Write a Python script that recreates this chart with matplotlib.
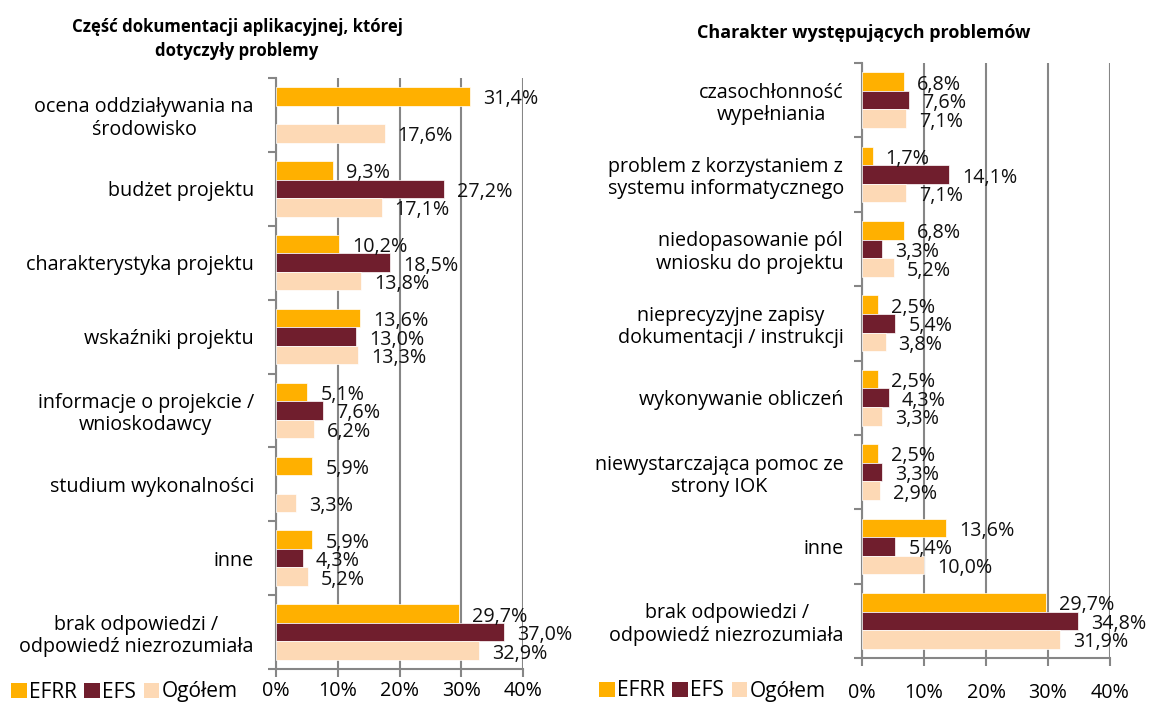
import numpy as np
import matplotlib
matplotlib.use("Agg")
import matplotlib.pyplot as plt
from matplotlib.patches import Patch

plt.rcParams['font.family'] = ['Open Sans', 'DejaVu Sans']

series_names = ["EFRR", "EFS", "Ogółem"]
colors = ["#FFB000", "#701E2D", "#FDD9B5"]

left_title = "Część dokumentacji aplikacyjnej, której\ndotyczyły problemy"
left_categories = [
    "ocena oddziaływania na\nśrodowisko",
    "budżet projektu",
    "charakterystyka projektu",
    "wskaźniki projektu",
    "informacje o projekcie /\nwnioskodawcy",
    "studium wykonalności",
    "inne",
    "brak odpowiedzi /\nodpowiedź niezrozumiała",
]
left_efrr = [31.4, 9.3, 10.2, 13.6, 5.1, 5.9, 5.9, 29.7]
left_efs = [np.nan, 27.2, 18.5, 13.0, 7.6, np.nan, 4.3, 37.0]
left_total = [17.6, 17.1, 13.8, 13.3, 6.2, 3.3, 5.2, 32.9]

right_title = "Charakter występujących problemów"
right_categories = [
    "czasochłonność\nwypełniania",
    "problem z korzystaniem z\nsystemu informatycznego",
    "niedopasowanie pól\nwniosku do projektu",
    "nieprecyzyjne zapisy\ndokumentacji / instrukcji",
    "wykonywanie obliczeń",
    "niewystarczająca pomoc ze\nstrony IOK",
    "inne",
    "brak odpowiedzi /\nodpowiedź niezrozumiała",
]
right_efrr = [6.8, 1.7, 6.8, 2.5, 2.5, 2.5, 13.6, 29.7]
right_efs = [7.6, 14.1, 3.3, 5.4, 4.3, 3.3, 5.4, 34.8]
right_total = [7.1, 7.1, 5.2, 3.8, 3.3, 2.9, 10.0, 31.9]

x_ticks = [0, 10, 20, 30, 40]
x_tick_labels = ["0%", "10%", "20%", "30%", "40%"]

W, H = 1151, 704
fig = plt.figure(figsize=(W / 100, H / 100), dpi=100)

GRID = "#868686"
FS = 14.2


def px_axes(x0, y0, x1, y1):
    return fig.add_axes([x0 / W, 1 - y1 / H, (x1 - x0) / W, (y1 - y0) / H])


def draw(ax, cats, s1, s2, s3, title, title_xy, title_fs, xpad, ypad):
    n = len(cats)
    bh = 0.25
    y = np.arange(n)
    for i, (vals, c) in enumerate(zip([s1, s2, s3], colors)):
        vals = np.array(vals, dtype=float)
        pos = y + (i - 1) * bh
        mask = ~np.isnan(vals)
        ax.barh(pos[mask], vals[mask], height=bh, color=c, zorder=3,
                edgecolor="white", linewidth=0.5)
        for p, v in zip(pos[mask], vals[mask]):
            ax.annotate(f"{v:.1f}%".replace(".", ","), (v, p),
                        xytext=(13, -3), textcoords="offset pixels",
                        ha="left", va="center", fontsize=FS, color="#111111",
                        zorder=4)
    ax.set_ylim(n - 0.5, -0.5)
    ax.set_xlim(0, 40)
    ax.set_xticks(x_ticks)
    ax.set_xticklabels(x_tick_labels, fontsize=FS)
    ax.xaxis.grid(True, color=GRID, linewidth=1.5, zorder=0)
    ax.set_yticks(y)
    ax.set_yticklabels(cats, fontsize=FS, ha="right", multialignment="center",
                       linespacing=1.15)
    for lab in ax.get_yticklabels():
        lab.set_y(lab.get_position()[1])
    ax.set_yticks(np.arange(n + 1) - 0.5, minor=True)
    ax.tick_params(axis="y", which="major", length=0, pad=ypad)
    ax.tick_params(axis="y", which="minor", length=6, width=1.5, color=GRID,
                   direction="out")
    ax.tick_params(axis="x", which="major", length=6, width=1.5, color=GRID,
                   direction="out", pad=xpad)
    for s in ["top", "right"]:
        ax.spines[s].set_visible(False)
    for s in ["left", "bottom"]:
        ax.spines[s].set_color(GRID)
        ax.spines[s].set_linewidth(1.5)
    fig.text(title_xy[0] / W, 1 - title_xy[1] / H, title, ha="center",
             va="center", fontsize=title_fs, fontweight="bold", linespacing=1.45)


axL = px_axes(276, 78, 523, 669)
draw(axL, left_categories, left_efrr, left_efs, left_total, left_title,
     (237, 39), 12.1, 3, 16)

axR = px_axes(862, 63, 1110, 658)
draw(axR, right_categories, right_efrr, right_efs, right_total, right_title,
     (864, 33), 13.0, 12, 13)

handles = [Patch(facecolor=c, edgecolor="none") for c in colors]
for xl, yl in [(11, 692), (599, 691)]:
    fig.legend(handles, series_names, loc="center left",
               bbox_to_anchor=(xl / W, 1 - yl / H), ncol=3, frameon=False,
               fontsize=15, handlelength=0.75, handleheight=0.75,
               handletextpad=0.12, columnspacing=0.35, borderaxespad=0,
               borderpad=0)

fig.savefig("out.png", dpi=100)
